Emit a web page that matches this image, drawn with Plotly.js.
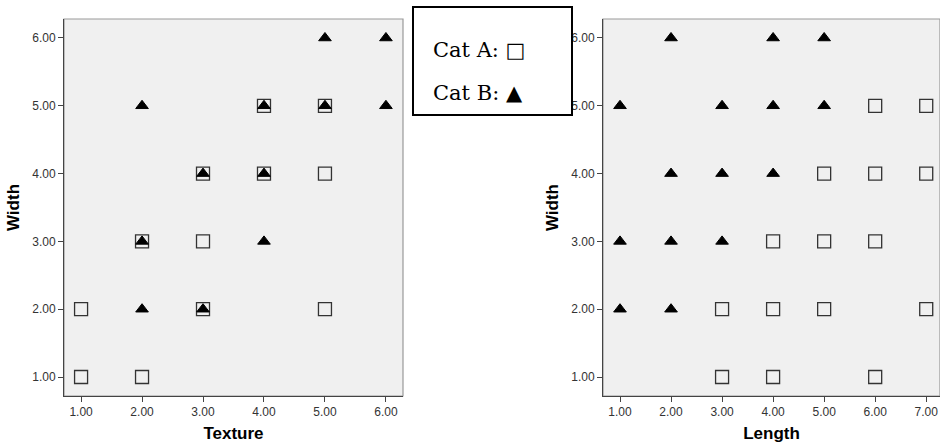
<!DOCTYPE html>
<html>
<head>
<meta charset="utf-8">
<script src="https://cdn.plot.ly/plotly-3.0.1.min.js"></script>
<style>html,body{margin:0;padding:0;background:#fff;}#chart{width:940px;height:447px;}</style>
</head>
<body>
<div id="chart"></div>
<script>
// Left panel: Texture vs Width
const texACatX = [1, 2, 1, 3, 5, 2, 3, 3, 4, 5, 4, 5];
const texACatY = [1, 1, 2, 2, 2, 3, 3, 4, 4, 4, 5, 5];
const texBCatX = [5, 6, 2, 4, 5, 6, 3, 4, 2, 4, 2, 3];
const texBCatY = [6, 6, 5, 5, 5, 5, 4, 4, 3, 3, 2, 2];
// Right panel: Length vs Width
const lenACatX = [6, 7, 5, 6, 7, 4, 5, 6, 3, 4, 5, 7, 3, 4, 6];
const lenACatY = [5, 5, 4, 4, 4, 3, 3, 3, 2, 2, 2, 2, 1, 1, 1];
const lenBCatX = [2, 4, 5, 1, 3, 4, 5, 2, 3, 4, 1, 2, 3, 1, 2];
const lenBCatY = [6, 6, 6, 5, 5, 5, 5, 4, 4, 4, 3, 3, 3, 2, 2];
const texTicks = [1, 2, 3, 4, 5, 6];
const lenTicks = [1, 2, 3, 4, 5, 6, 7];
const widthTicks = [1, 2, 3, 4, 5, 6];

const sqMarker = {symbol: 'square-open', size: 13, color: '#333', line: {width: 1.3, color: '#333'}};
const triMarker = {symbol: 'triangle-up', size: 11, color: '#000', line: {width: 1, color: '#000'}};

const traces = [
  {x: texACatX, y: texACatY, type: 'scatter', mode: 'markers', marker: sqMarker, xaxis: 'x', yaxis: 'y', name: 'Cat A'},
  {x: texBCatX, y: texBCatY, type: 'scatter', mode: 'markers', marker: triMarker, xaxis: 'x', yaxis: 'y', name: 'Cat B'},
  {x: lenACatX, y: lenACatY, type: 'scatter', mode: 'markers', marker: sqMarker, xaxis: 'x2', yaxis: 'y2', name: 'Cat A'},
  {x: lenBCatX, y: lenBCatY, type: 'scatter', mode: 'markers', marker: triMarker, xaxis: 'x2', yaxis: 'y2', name: 'Cat B'}
];

const tickFont = {family: 'Liberation Sans, Arial, sans-serif', size: 12, color: '#333'};
const titleFont = {family: 'Liberation Sans, Arial, sans-serif', size: 17, color: '#000', weight: 'bold'};

function xAxis(domain, range, ticks, title) {
  return {
    domain: domain, range: range, tickvals: ticks, ticktext: ticks.map(v => v.toFixed(2)),
    showgrid: false, zeroline: false, showline: true, linecolor: '#444', linewidth: 1,
    ticks: 'outside', ticklen: 5, tickcolor: '#444', tickfont: tickFont,
    title: {text: '<b>' + title + '</b>', font: titleFont, standoff: 8}, fixedrange: true
  };
}
function yAxis(anchor, range, ticks, title) {
  return {
    anchor: anchor, domain: [0, 1], range: range, tickvals: ticks, ticktext: ticks.map(v => v.toFixed(2)),
    showgrid: false, zeroline: false, showline: true, linecolor: '#444', linewidth: 1,
    ticks: 'outside', ticklen: 5, tickcolor: '#444', tickfont: tickFont, ticklabelstandoff: 0,
    title: {text: '<b>' + title + '</b>', font: titleFont, standoff: 8}, fixedrange: true
  };
}

const xa = xAxis([64/940, 403/940], [0.72, 6.28], texTicks, 'Texture');
xa.anchor = 'y';
const xb = xAxis([603/940, 1.0], [0.667, 7.27], lenTicks, 'Length');
xb.anchor = 'y2';

const legendFont = {family: 'DejaVu Serif, Liberation Serif, serif', size: 21, color: '#000'};

const layout = {
  width: 940, height: 447,
  margin: {l: 0, r: 0, t: 19, b: 51},
  paper_bgcolor: '#ffffff', plot_bgcolor: '#f0f0f0',
  showlegend: false,
  xaxis: xa,
  yaxis: yAxis('x', [0.72, 6.28], widthTicks, 'Width'),
  xaxis2: xb,
  yaxis2: yAxis('x2', [0.72, 6.28], widthTicks, 'Width'),
  shapes: [
    {type: 'rect', xref: 'x domain', yref: 'y domain', x0: 0, x1: 1, y0: 0, y1: 1, line: {color: '#999', width: 1.2}, layer: 'below'},
    {type: 'rect', xref: 'x2 domain', yref: 'y2 domain', x0: 0, x1: 1, y0: 0, y1: 1, line: {color: '#999', width: 1.2}, layer: 'below'},
    {type: 'rect', xref: 'paper', yref: 'paper', x0: 413/940, x1: 572/940, y0: (396-115)/377, y1: (396-7)/377, line: {color: '#000', width: 2}, fillcolor: '#ffffff', layer: 'above'}
  ],
  annotations: [
    {xref: 'paper', yref: 'paper', x: 431/940, y: (396-50)/377, xanchor: 'left', yanchor: 'middle', showarrow: false, text: 'Cat A: \u25A1', font: legendFont},
    {xref: 'paper', yref: 'paper', x: 431/940, y: (396-93)/377, xanchor: 'left', yanchor: 'middle', showarrow: false, text: 'Cat B: \u25B2', font: legendFont}
  ]
};

Plotly.newPlot('chart', traces, layout, {displayModeBar: false, staticPlot: true});
</script>
</body>
</html>
